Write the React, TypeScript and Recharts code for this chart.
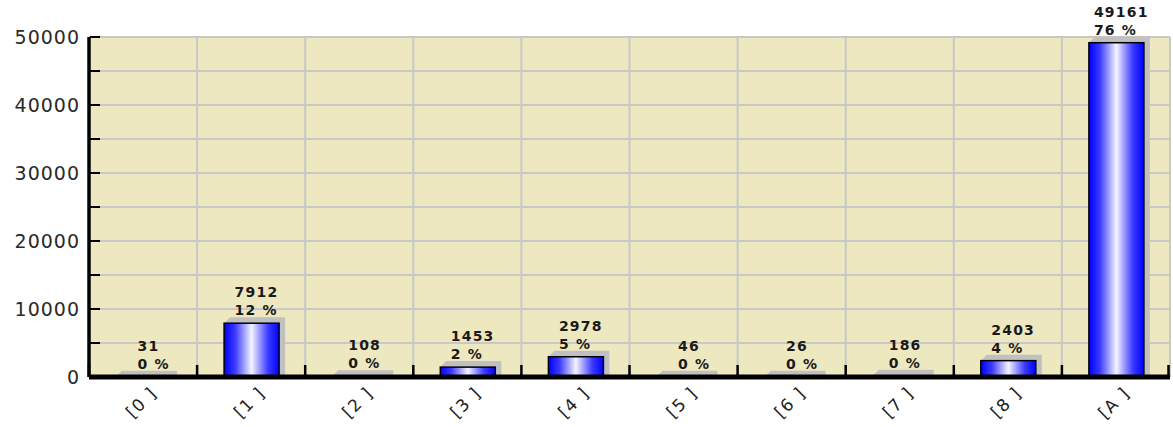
import React from "react";
import { BarChart, Bar, XAxis, YAxis, CartesianGrid, LabelList } from "recharts";

const categories = ["[0 ]", "[1 ]", "[2 ]", "[3 ]", "[4 ]", "[5 ]", "[6 ]", "[7 ]", "[8 ]", "[A ]"];
const counts = [31, 7912, 108, 1453, 2978, 46, 26, 186, 2403, 49161];
const percents = ["0 %", "12 %", "0 %", "2 %", "5 %", "0 %", "0 %", "0 %", "4 %", "76 %"];
const yTicks = [0, 5000, 10000, 15000, 20000, 25000, 30000, 35000, 40000, 45000, 50000];

const data = categories.map((name, i) => ({ name, count: counts[i], pct: percents[i] }));

const FONT = "'DejaVu Sans', Verdana, sans-serif";
const CHART_W = 1173;
const MARGIN = { top: 37, right: 3, left: 0, bottom: 0 };
const Y_W = 89;
const BAND = (CHART_W - MARGIN.left - MARGIN.right - Y_W) / categories.length;

function ShadowBar(props: any) {
  const { x, y, width, height } = props;
  const d = 6;
  const shadow = [
    [x, y],
    [x + d, y - d],
    [x + width + d, y - d],
    [x + width + d, y + height],
    [x + width, y + height],
  ]
    .map((p) => p.join(","))
    .join(" ");
  return (
    <g>
      <polygon points={shadow} fill="#c0c0c0" />
      <rect x={x} y={y} width={width} height={height} fill="url(#barGrad)" stroke="#000" strokeWidth={1.5} />
    </g>
  );
}

function BarLabel(props: any) {
  const { x, y, width, index } = props;
  const value = String(counts[index]);
  const left = x + width / 2 + 5 - value.length * 5.5;
  const style = { fontFamily: FONT, fontSize: 14, fontWeight: 700, fill: "#1a1a1a", letterSpacing: 1.2 };
  return (
    <g>
      <text x={left} y={y - 26} {...style}>{value}</text>
      <text x={left} y={y - 8} {...style}>{percents[index]}</text>
    </g>
  );
}

function YTick(props: any) {
  const { x, y, payload } = props;
  const major = payload.value % 10000 === 0;
  return (
    <g>
      <line x1={x + 10} x2={x + 20} y1={y} y2={y} stroke="#000" strokeWidth={2} />
      {major && (
        <text x={x} y={y + 7} textAnchor="end" fontFamily={FONT} fontSize={19} fill="#2a2a2a" letterSpacing={1}>
          {payload.value}
        </text>
      )}
    </g>
  );
}

function XTick(props: any) {
  const { x, y, payload, index } = props;
  const top = y - 2;
  const last = index === categories.length - 1;
  const left = x - BAND / 2;
  const right = x + BAND / 2 - 1.5;
  return (
    <g>
      <path d={`M${left},${top}V${top - 12}`} stroke="#000" strokeWidth={2.5} fill="none" />
      {last && <path d={`M${right},${top}V${top - 12}`} stroke="#000" strokeWidth={2.5} fill="none" />}
      <g transform={`translate(${x + 15}, ${y + 15}) rotate(-45)`}>
        <text x={0} y={0} textAnchor="end" fontFamily={FONT} fontSize={17} fill="#222" letterSpacing={1.5}>
          {payload.value}
        </text>
      </g>
    </g>
  );
}

export default function App() {
  return (
    <div style={{ position: "absolute", left: 0, top: 0, background: "#fff" }}>
      <BarChart width={CHART_W} height={427} data={data} margin={MARGIN}>
        <defs>
          <linearGradient id="barGrad" x1="0" y1="0" x2="1" y2="0">
            <stop offset="0" stopColor="#0000ff" />
            <stop offset="0.2" stopColor="#3a3aff" />
            <stop offset="0.5" stopColor="#f4f4ff" />
            <stop offset="0.8" stopColor="#3a3aff" />
            <stop offset="1" stopColor="#0000ff" />
          </linearGradient>
        </defs>
        <CartesianGrid
          fill="#eee8c0"
          stroke="#c8c8c8"
          strokeWidth={2}
          verticalCoordinatesGenerator={({ offset }: any) =>
            Array.from({ length: categories.length + 1 }, (_, i) => offset.left + (i * offset.width) / categories.length)
          }
        />
        <XAxis
          dataKey="name"
          height={50}
          interval={0}
          axisLine={{ stroke: "#000", strokeWidth: 5 }}
          tickLine={false}
          tickSize={0}
          tickMargin={2}
          tick={<XTick />}
        />
        <YAxis
          width={Y_W}
          domain={[0, 50000]}
          ticks={yTicks}
          interval={0}
          axisLine={{ stroke: "#000", strokeWidth: 3.5 }}
          tickLine={false}
          tickSize={0}
          tickMargin={9}
          tick={<YTick />}
        />
        <Bar dataKey="count" barSize={55} shape={<ShadowBar />} isAnimationActive={false}>
          <LabelList dataKey="count" content={<BarLabel />} />
        </Bar>
      </BarChart>
    </div>
  );
}
